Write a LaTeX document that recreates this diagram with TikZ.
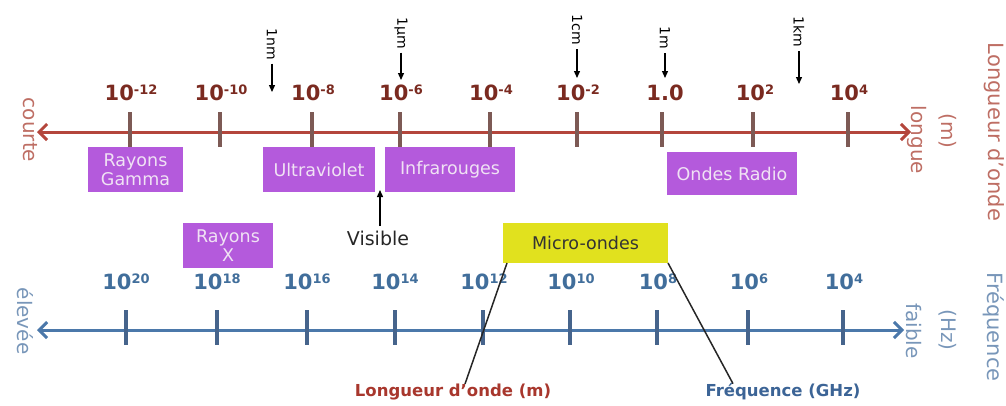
\documentclass[tikz,border=0pt]{standalone}
\usepackage{fontspec}
\setmainfont{DejaVu Sans}
\usetikzlibrary{arrows.meta}
\definecolor{axr}{HTML}{B4463C}
\definecolor{tickr}{HTML}{7D5A55}
\definecolor{labr}{HTML}{7A2A20}
\definecolor{sider}{HTML}{BE6E64}
\definecolor{axb}{HTML}{4B78AA}
\definecolor{tickb}{HTML}{46648C}
\definecolor{labb}{HTML}{416E9B}
\definecolor{sideb}{HTML}{7896B9}
\definecolor{lwcol}{HTML}{A8372D}
\definecolor{fqcol}{HTML}{3C6496}
\definecolor{purp}{HTML}{B45ADC}
\definecolor{ptxt}{HTML}{F0E2F4}
\definecolor{yel}{HTML}{E1E11E}
\newcommand\tenp[2]{10\raisebox{#2}{\fontsize{13}{13}\selectfont #1}}
\begin{document}
\begin{tikzpicture}[x=1pt,y=-1pt,
  every node/.style={inner sep=0pt,outer sep=0pt},
  raxis/.style={line width=3pt,draw=axr,<->,>={Straight Barb[length=8pt,width=16pt]}},
  baxis/.style={line width=3pt,draw=axb,<->,>={Straight Barb[length=8pt,width=16pt]}},
  rtick/.style={line width=4pt,draw=tickr},
  btick/.style={line width=4pt,draw=tickb},
  toplab/.style={text=labr,font=\fontsize{21}{21}\selectfont\bfseries},
  botlab/.style={text=labb,font=\fontsize{21}{21}\selectfont\bfseries},
  rside/.style={text=sider,rotate=-90,font=\fontsize{20}{20}\selectfont},
  bside/.style={text=sideb,rotate=-90,font=\fontsize{20}{20}\selectfont},
  smalllab/.style={rotate=-90,font=\fontsize{14}{14}\selectfont},
  sarrow/.style={line width=1.3pt,-{Triangle[length=7pt,width=6pt]}},
  pbox/.style={fill=purp,text=ptxt,align=center,font=\fontsize{17.5}{19}\selectfont},
  ybox/.style={fill=yel,text=black!80,font=\fontsize{17.5}{19}\selectfont},
  diag/.style={line width=1.5pt,draw=black!85}
]
\useasboundingbox (0,0) rectangle (1006,405);

% ---------- wavelength axis ----------
\coordinate (rl) at (37,132);
\coordinate (rr) at (911,132);
\draw[raxis] (rl) -- (rr);
\foreach \x in {130,220,312,400,490,577,662,753,848}
  \draw[rtick] (\x,112) -- (\x,147);

\node[toplab] (w1) at (131,93) {\tenp{-12}{5.8pt}};
\node[toplab] (w2) at (221,93) {\tenp{-10}{5.8pt}};
\node[toplab] (w3) at (313,93) {\tenp{-8}{5.8pt}};
\node[toplab] (w4) at (401,93) {\tenp{-6}{5.8pt}};
\node[toplab] (w5) at (491,93) {\tenp{-4}{5.8pt}};
\node[toplab] (w6) at (578,93) {\tenp{-2}{5.8pt}};
\node[toplab] (w7) at (665,93) {1.0};
\node[toplab] (w8) at (755,93) {\tenp{2}{5.8pt}};
\node[toplab] (w9) at (849,93) {\tenp{4}{5.8pt}};

\node[rside] (courte) at (30,130) {courte};
\node[rside] (longue) at (917,140) {longue};
\node[rside] (m) at (948,131) {(m)};
\node[rside,font=\fontsize{21}{21}\selectfont] (lo) at (994,132) {Longueur d'onde};

% small unit markers
\node[smalllab] (nm) at (272,44) {1nm};
\coordinate (nmt) at (272,92);
\draw[sarrow,shorten <=4pt] (nm.east) -- (nmt);
\node[smalllab] (um) at (401,33) {1µm};
\coordinate (umt) at (401,80);
\draw[sarrow,shorten <=4pt] (um.east) -- (umt);
\node[smalllab] (cm) at (577,30) {1cm};
\coordinate (cmt) at (577,78);
\draw[sarrow,shorten <=4pt] (cm.east) -- (cmt);
\node[smalllab] (onem) at (665,38) {1m};
\coordinate (onemt) at (665,78);
\draw[sarrow,shorten <=4pt] (onem.east) -- (onemt);
\node[smalllab] (km) at (799,32) {1km};
\coordinate (kmt) at (799,84);
\draw[sarrow,shorten <=4pt] (km.east) -- (kmt);

% purple boxes
\node[pbox,minimum width=95pt,minimum height=45pt] (gam) at (135.5,169.5) {Rayons\\Gamma};
\node[pbox,minimum width=112pt,minimum height=45pt] (uv) at (319,169.5) {Ultraviolet};
\node[pbox,minimum width=130pt,minimum height=45pt] (ir) at (450,169.5) {Infrarouges};
\node[pbox,minimum width=130pt,minimum height=43pt] (radio) at (732,173.5) {Ondes Radio};
\node[pbox,minimum width=90pt,minimum height=45pt] (rx) at (228,245.5) {Rayons\\X};
\node[ybox,minimum width=165pt,minimum height=40pt] (mo) at (585.5,243) {Micro-ondes};

% visible
\node[font=\fontsize{19}{19}\selectfont,text=black!85] (vis) at (378,238) {Visible};
\coordinate (vbase) at (380,226);
\coordinate (vtip) at (380,190);
\draw[sarrow] (vbase) -- (vtip);

% ---------- frequency axis ----------
\coordinate (bl) at (37,330);
\coordinate (br) at (904,330);
\draw[baxis] (bl) -- (br);
\foreach \x in {126,217,307,395,483,570,657,748,843}
  \draw[btick] (\x,310) -- (\x,345);

\node[botlab] (f1) at (126,282) {\tenp{20}{5.8pt}};
\node[botlab] (f2) at (217,282) {\tenp{18}{5.8pt}};
\node[botlab] (f3) at (307,282) {\tenp{16}{5.8pt}};
\node[botlab] (f4) at (395,282) {\tenp{14}{5.8pt}};
\node[botlab] (f5) at (484,282) {\tenp{12}{5.8pt}};
\node[botlab] (f6) at (571,282) {\tenp{10}{5.8pt}};
\node[botlab] (f7) at (658,282) {\tenp{8}{5.8pt}};
\node[botlab] (f8) at (749,282) {\tenp{6}{5.8pt}};
\node[botlab] (f9) at (844,282) {\tenp{4}{5.8pt}};

\node[bside] (elevee) at (25,321) {élevée};
\node[bside] (faible) at (914,331) {faible};
\node[bside] (hz) at (948,330) {(Hz)};
\node[bside,font=\fontsize{21}{21}\selectfont] (freq) at (994,327) {Fréquence};

% bottom labels with connectors
\node[text=lwcol,font=\fontsize{16.5}{16.5}\selectfont\bfseries] (lw) at (453,392) {Longueur d'onde (m)};
\node[text=fqcol,font=\fontsize{16.5}{16.5}\selectfont\bfseries] (fq) at (783,392) {Fréquence (GHz)};
\draw[diag] ([xshift=12pt]lw.north) -- ([xshift=4pt]mo.south west);
\draw[diag] ([xshift=-50pt]fq.north) -- (mo.south east);
\end{tikzpicture}
\end{document}
